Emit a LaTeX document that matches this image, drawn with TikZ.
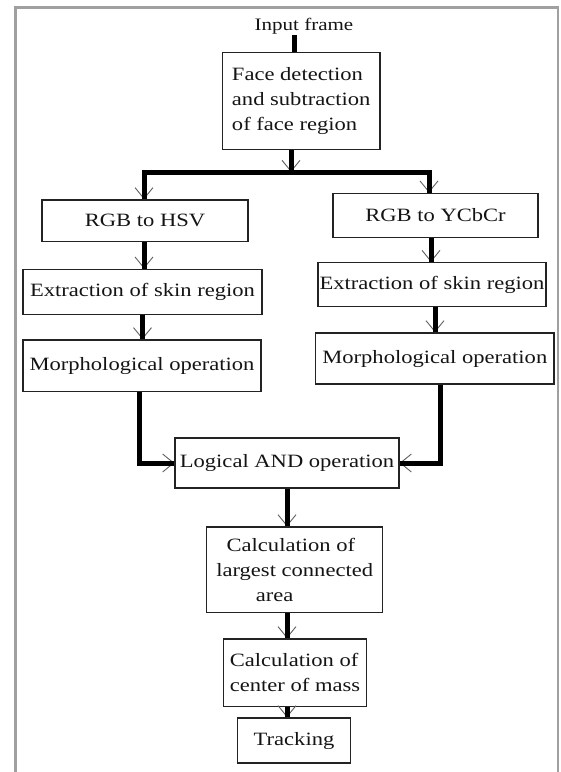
\documentclass[tikz,border=0pt]{standalone}
\usepackage{fontspec}
\setmainfont{Liberation Serif}[FakeStretch=1.2]
\usetikzlibrary{arrows.meta}
\definecolor{boxc}{RGB}{35,35,35}
\definecolor{txtc}{RGB}{20,20,20}
\definecolor{barbc}{RGB}{95,95,95}
\definecolor{frmc}{RGB}{160,160,160}
\begin{document}
\begin{tikzpicture}[x=1pt,y=-1pt,
  box/.style={draw=boxc, line width=1.3pt, inner sep=0pt, align=center,
    font=\fontsize{18.8}{24.7}\selectfont, text=txtc},
  thk/.style={line width=5pt, draw=black},
  barb/.style={draw=barbc, line width=0.9pt, -{Straight Barb[length=11pt,width=18pt]}},
  frm/.style={draw=frmc, line width=2.6pt}]
\useasboundingbox (0,0) rectangle (561,772);
\draw[frm] (15.7,772) -- (15.7,7.5) -- (558,7.5) -- (558,772);

% nodes
\node[font=\fontsize{17.5}{20}\selectfont, text=txtc, inner sep=1pt] (in) at (304,26) {Input frame};
\node[box, minimum width=157.5pt, minimum height=96.6pt, align=left] (face) at (301.2,101)
  {Face detection\\and subtraction\\of face region};
\node[box, minimum width=206pt, minimum height=41.7pt] (hsv) at (145,220.8) {RGB to HSV};
\node[box, minimum width=205pt, minimum height=44pt] (ycc) at (435.5,215.3) {RGB to YCbCr};
\node[box, minimum width=239pt, minimum height=45pt] (extL) at (142.5,291.8) {Extraction of skin region};
\node[box, minimum width=228pt, minimum height=44pt] (extR) at (432,284.7) {Extraction of skin region};
\node[box, minimum width=238pt, minimum height=51.7pt] (morL) at (142,365.8) {Morphological operation};
\node[box, minimum width=238.3pt, minimum height=51pt] (morR) at (434.8,358.5) {Morphological operation};
\node[box, minimum width=224pt, minimum height=50pt] (and) at (287,463) {Logical AND operation};
\node[box, minimum width=176pt, minimum height=85.7pt, align=left] (cl) at (294.7,569.9)
  {\hspace*{0.55em}Calculation of\\largest connected\\\hspace*{2.1em}area};
\node[box, minimum width=143.4pt, minimum height=67.7pt, align=left] (cm) at (295,672.8)
  {Calculation of\\center of mass};
\node[box, minimum width=113.4pt, minimum height=45pt] (tr) at (294,740.5) {Tracking};

% column coordinates
\coordinate (xin) at (294,0);
\coordinate (busM) at (291,172);
\coordinate (busL) at (144,172);
\coordinate (busR) at (429,172);
\coordinate (xl1) at (144,0);
\coordinate (xl2) at (142.5,0);
\coordinate (xr1) at (431,0);
\coordinate (xr2) at (435,0);
\coordinate (jL) at (139.5,463);
\coordinate (jR) at (440,463);
\coordinate (xc) at (287,0);

% barbs (under the thick lines)
\draw[barb] (busM |- face.south) -- (busM);
\draw[barb] (busL) -- (busL |- hsv.north);
\draw[barb] (busR) -- (busR |- ycc.north);
\draw[barb] (xl1 |- hsv.south) -- (xl1 |- extL.north);
\draw[barb] (xl2 |- extL.south) -- (xl2 |- morL.north);
\draw[barb] (xr1 |- ycc.south) -- (xr1 |- extR.north);
\draw[barb] (xr2 |- extR.south) -- (xr2 |- morR.north);
\draw[barb] (jL) -- (and.west);
\draw[barb] (jR) -- (and.east);
\draw[barb] (xc |- and.south) -- (xc |- cl.north);
\draw[barb] (xc |- cl.south) -- (xc |- cm.north);
\draw[barb] (xc |- cm.south) -- (xc |- tr.north);

% thick connectors
\draw[thk] (xin |- in.south) -- (xin |- face.north);
\draw[thk] (busM |- face.south) -- (busM);
\draw[thk] (busL |- hsv.north) -- (busL) -- (busR) -- (busR |- ycc.north);
\draw[thk] (xl1 |- hsv.south) -- (xl1 |- extL.north);
\draw[thk] (xl2 |- extL.south) -- (xl2 |- morL.north);
\draw[thk] (xr1 |- ycc.south) -- (xr1 |- extR.north);
\draw[thk] (xr2 |- extR.south) -- (xr2 |- morR.north);
\draw[thk] (jL |- morL.south) -- (jL) -- (and.west);
\draw[thk] (jR |- morR.south) -- (jR) -- (and.east);
\draw[thk] (xc |- and.south) -- (xc |- cl.north);
\draw[thk] (xc |- cl.south) -- (xc |- cm.north);
\draw[thk] (xc |- cm.south) -- (xc |- tr.north);
\end{tikzpicture}
\end{document}
